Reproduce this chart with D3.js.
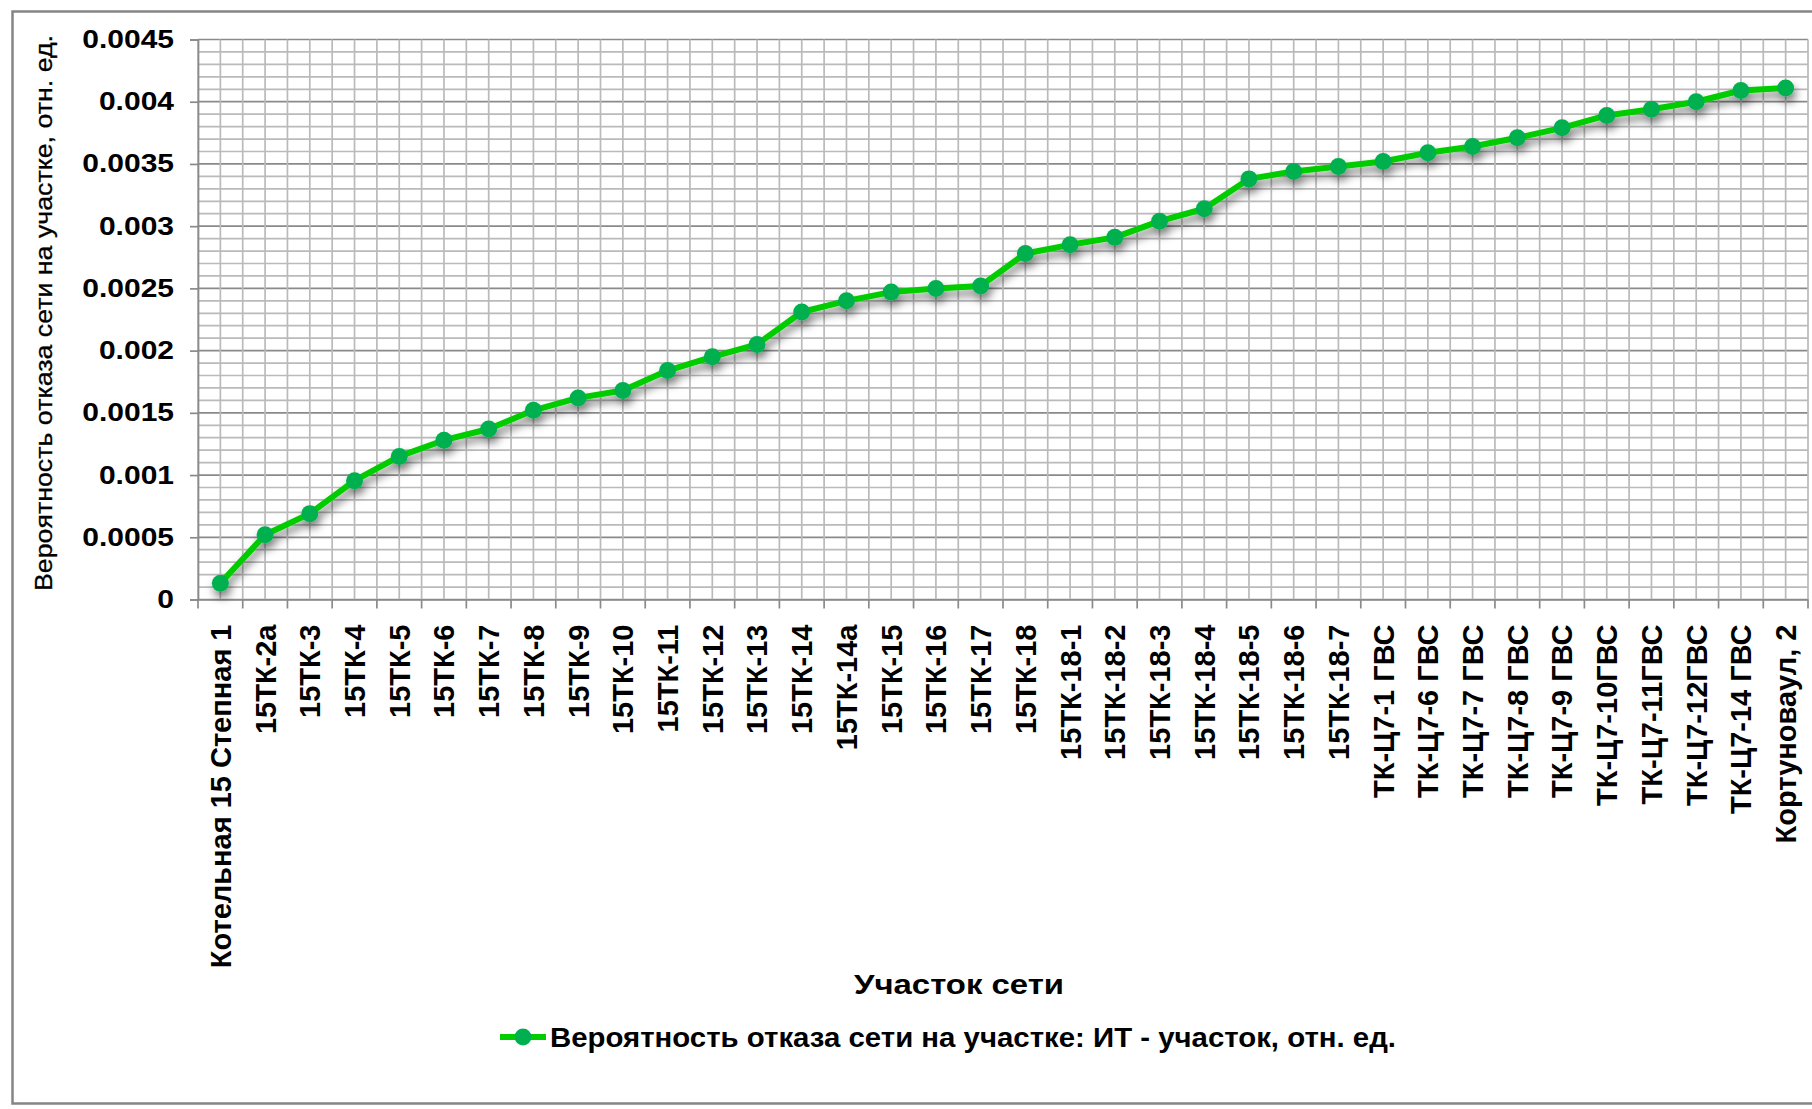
<!DOCTYPE html>
<html>
<head>
<meta charset="utf-8">
<script src="https://cdn.jsdelivr.net/npm/d3@7"></script>
<style>
  html, body { margin: 0; padding: 0; background: #fff; }
  svg { display: block; font-family: 'Liberation Sans', Arial, sans-serif; }
</style>
</head>
<body>
<svg id="chart" width="1812" height="1109"></svg>
<script>
const categories = [
    'Котельная 15 Степная 1', '15ТК-2а', '15ТК-3', '15ТК-4', '15ТК-5', '15ТК-6',
    '15ТК-7', '15ТК-8', '15ТК-9', '15ТК-10', '15ТК-11', '15ТК-12', '15ТК-13',
    '15ТК-14', '15ТК-14а', '15ТК-15', '15ТК-16', '15ТК-17', '15ТК-18',
    '15ТК-18-1', '15ТК-18-2', '15ТК-18-3', '15ТК-18-4', '15ТК-18-5', '15ТК-18-6',
    '15ТК-18-7', 'ТК-Ц7-1 ГВС', 'ТК-Ц7-6 ГВС', 'ТК-Ц7-7 ГВС', 'ТК-Ц7-8 ГВС',
    'ТК-Ц7-9 ГВС', 'ТК-Ц7-10ГВС', 'ТК-Ц7-11ГВС', 'ТК-Ц7-12ГВС', 'ТК-Ц7-14 ГВС',
    'Кортуноваул, 2'
];

const values = [
    0.00013, 0.00052, 0.00069, 0.000955, 0.00115, 0.00128,
    0.00137, 0.00152, 0.00162, 0.00168, 0.00184, 0.00195, 0.00205,
    0.00231, 0.0024, 0.00247, 0.0025, 0.00252, 0.00278,
    0.00285, 0.00291, 0.00304, 0.00314, 0.00338, 0.00344,
    0.00348, 0.00352, 0.00359, 0.00364, 0.00371,
    0.00379, 0.00389, 0.00394, 0.004, 0.00409,
    0.00411
];

const yTicks = [0, 0.0005, 0.001, 0.0015, 0.002, 0.0025, 0.003, 0.0035, 0.004, 0.0045];
const yTickLabels = ['0', '0.0005', '0.001', '0.0015', '0.002', '0.0025', '0.003', '0.0035', '0.004', '0.0045'];
const yMinorStep = 0.0001;

const seriesName = 'Вероятность отказа сети на участке: ИТ - участок, отн. ед.';
const xTitle = 'Участок сети';
const yTitle = 'Вероятность отказа сети на участке, отн. ед.';

const plot = { left: 198, right: 1808, top: 39.5, bottom: 599.5 };
const lineColor = '#00cc00';
const markerColor = '#00b050';

const svg = d3.select('#chart');

// soft shadow under the series
const defs = svg.append('defs');
const shadow = defs.append('filter')
    .attr('id', 'shadow')
    .attr('x', '-5%').attr('y', '-20%')
    .attr('width', '110%').attr('height', '150%');
shadow.append('feDropShadow')
    .attr('dx', 2).attr('dy', 6)
    .attr('stdDeviation', 4)
    .attr('flood-color', '#000')
    .attr('flood-opacity', 0.5);

// outer chart border
svg.append('rect')
    .attr('x', 12.5).attr('y', 11.5)
    .attr('width', 1812).attr('height', 1092)
    .attr('fill', '#fff')
    .attr('stroke', '#858585')
    .attr('stroke-width', 2.5);

const x = d3.scaleBand()
    .domain(categories)
    .range([plot.left, plot.right])
    .padding(0);

const y = d3.scaleLinear()
    .domain([0, 0.0045])
    .range([plot.bottom, plot.top]);

const grid = svg.append('g').attr('class', 'grid');

// horizontal minor + major grid
const hLines = d3.range(0, 46).map(i => i * yMinorStep);
grid.selectAll('line.h')
    .data(hLines)
    .enter()
    .append('line')
        .attr('class', 'h')
        .attr('x1', plot.left).attr('x2', plot.right)
        .attr('y1', d => y(d)).attr('y2', d => y(d))
        .attr('stroke', (d, i) => i % 5 === 0 ? '#8a8a8a' : '#bababa')
        .attr('stroke-width', 1.7);

// vertical grid: category boundaries and centres
const vLines = [];
categories.forEach(c => {
    vLines.push(x(c));
    vLines.push(x(c) + x.bandwidth() / 2);
});
vLines.push(plot.right);
grid.selectAll('line.v')
    .data(vLines)
    .enter()
    .append('line')
        .attr('class', 'v')
        .attr('x1', d => d).attr('x2', d => d)
        .attr('y1', plot.top).attr('y2', plot.bottom)
        .attr('stroke', '#bababa')
        .attr('stroke-width', 1.7);

// y axis
const yAxis = svg.append('g')
    .attr('transform', `translate(${plot.left},0)`)
    .call(d3.axisLeft(y)
        .tickValues(yTicks)
        .tickFormat((d, i) => yTickLabels[i])
        .tickSize(8)
        .tickPadding(16));
yAxis.select('.domain').attr('stroke', '#8a8a8a').attr('stroke-width', 1.7);
yAxis.selectAll('.tick line').attr('stroke', '#8a8a8a').attr('stroke-width', 1.7);
yAxis.selectAll('.tick text')
    .attr('fill', '#000')
    .style('font-size', '25px')
    .style('font-weight', 'bold')
    .each(function() {
        const w = this.getComputedTextLength();
        d3.select(this).attr('textLength', w * 1.2).attr('lengthAdjust', 'spacingAndGlyphs');
    });

// x axis with ticks between categories
const xAxis = svg.append('g')
    .attr('transform', `translate(0,${plot.bottom})`)
    .call(d3.axisBottom(x).tickSize(0).tickPadding(0));
xAxis.select('.domain').attr('stroke', '#8a8a8a').attr('stroke-width', 1.7);
xAxis.selectAll('.tick text')
    .attr('fill', '#000')
    .attr('text-anchor', 'end')
    .attr('transform', 'translate(0,25) rotate(-90)')
    .attr('x', 0).attr('y', 0)
    .attr('dy', '0.36em')
    .style('font-size', '29px')
    .style('font-weight', 'bold');
xAxis.selectAll('line.between')
    .data(vLines.filter((d, i) => i % 2 === 0 || d === plot.right))
    .enter()
    .append('line')
        .attr('class', 'between')
        .attr('x1', d => d).attr('x2', d => d)
        .attr('y1', 0).attr('y2', 9)
        .attr('stroke', '#8a8a8a')
        .attr('stroke-width', 1.7);

// series
const series = svg.append('g').attr('filter', 'url(#shadow)');
const line = d3.line()
    .x((d, i) => x(categories[i]) + x.bandwidth() / 2)
    .y(d => y(d));
series.append('path')
    .datum(values)
    .attr('d', line)
    .attr('fill', 'none')
    .attr('stroke', lineColor)
    .attr('stroke-width', 6)
    .attr('stroke-linejoin', 'round');
series.selectAll('circle')
    .data(values)
    .enter()
    .append('circle')
        .attr('cx', (d, i) => x(categories[i]) + x.bandwidth() / 2)
        .attr('cy', d => y(d))
        .attr('r', 8.5)
        .attr('fill', markerColor);

// axis titles
svg.append('text')
    .attr('transform', 'translate(44,313) rotate(-90)')
    .attr('text-anchor', 'middle')
    .attr('dy', '0.35em')
    .attr('textLength', 556)
    .attr('lengthAdjust', 'spacingAndGlyphs')
    .style('font-size', '24px')
    .style('stroke', '#000')
    .style('stroke-width', 0.3)
    .text(yTitle);

svg.append('text')
    .attr('x', 959).attr('y', 994)
    .attr('text-anchor', 'middle')
    .attr('textLength', 210)
    .attr('lengthAdjust', 'spacingAndGlyphs')
    .style('font-size', '28px')
    .style('font-weight', 'bold')
    .text(xTitle);

// legend
const legend = svg.append('g').attr('transform', 'translate(0,1037)');
legend.append('line')
    .attr('x1', 500).attr('x2', 546)
    .attr('y1', 0).attr('y2', 0)
    .attr('stroke', lineColor)
    .attr('stroke-width', 6);
legend.append('circle')
    .attr('cx', 523).attr('cy', 0)
    .attr('r', 8.5)
    .attr('fill', markerColor);
legend.append('text')
    .attr('x', 550).attr('y', 0)
    .attr('dy', '0.35em')
    .attr('textLength', 846)
    .attr('lengthAdjust', 'spacingAndGlyphs')
    .style('font-size', '28px')
    .style('font-weight', 'bold')
    .text(seriesName);
</script>
</body>
</html>
